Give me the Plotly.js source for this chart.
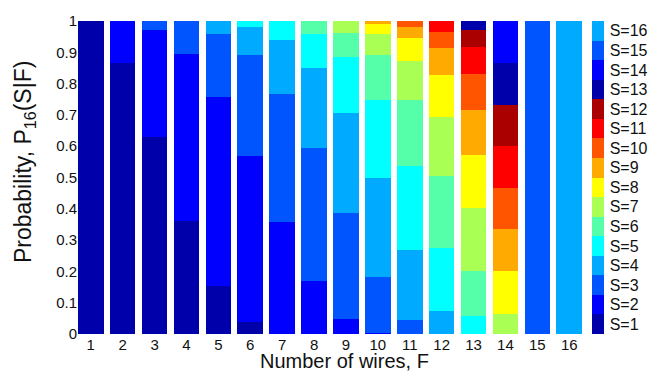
<!DOCTYPE html>
<html>
<head>
<meta charset="utf-8">
<script src="https://cdn.plot.ly/plotly-3.0.1.min.js"></script>
<style>html,body{margin:0;padding:0;background:#fff;}#chart{width:649px;height:374px;}</style>
</head>
<body>
<div id="chart"></div>
<script>
// Number of wires F (x categories)
const wires = [1,2,3,4,5,6,7,8,9,10,11,12,13,14,15,16];
// Probability P16(S|F) for each S (one array per S, indexed by F = 1..16)
const S1  = [1.000,0.867,0.628,0.362,0.152,0.038,0,0,0,0,0,0,0,0,0,0];
const S2  = [0,0.133,0.344,0.534,0.606,0.532,0.359,0.168,0.049,0.003,0,0,0,0,0,0];
const S3  = [0,0,0.028,0.104,0.202,0.321,0.409,0.425,0.337,0.179,0.046,0,0,0,0,0];
const S4  = [0,0,0,0,0.040,0.090,0.170,0.257,0.319,0.318,0.223,0.074,0,0,0,0];
const S5  = [0,0,0,0,0,0.019,0.062,0.110,0.180,0.247,0.269,0.200,0.056,0,0,0];
const S6  = [0,0,0,0,0,0,0,0.040,0.078,0.144,0.209,0.232,0.144,0,0,0];
const S7  = [0,0,0,0,0,0,0,0,0.037,0.069,0.125,0.186,0.201,0.063,0,0];
const S8  = [0,0,0,0,0,0,0,0,0,0.029,0.075,0.134,0.171,0.137,0,0];
const S9  = [0,0,0,0,0,0,0,0,0,0.011,0.034,0.088,0.143,0.135,0,0];
const S10 = [0,0,0,0,0,0,0,0,0,0,0.019,0.051,0.115,0.130,0,0];
const S11 = [0,0,0,0,0,0,0,0,0,0,0,0.035,0.087,0.135,0,0];
const S12 = [0,0,0,0,0,0,0,0,0,0,0,0,0.055,0.133,0,0];
const S13 = [0,0,0,0,0,0,0,0,0,0,0,0,0.028,0.134,0,0];
const S14 = [0,0,0,0,0,0,0,0,0,0,0,0,0,0.133,0,0];
const S15 = [0,0,0,0,0,0,0,0,0,0,0,0,0,0,1.000,0];
const S16 = [0,0,0,0,0,0,0,0,0,0,0,0,0,0,0,1.000];
const seriesValues = [S1,S2,S3,S4,S5,S6,S7,S8,S9,S10,S11,S12,S13,S14,S15,S16];
const seriesLabels = ['S=1','S=2','S=3','S=4','S=5','S=6','S=7','S=8','S=9','S=10','S=11','S=12','S=13','S=14','S=15','S=16'];
const yTicks = [0,0.1,0.2,0.3,0.4,0.5,0.6,0.7,0.8,0.9,1];
const xTitle = 'Number of wires, F';
const yTitle = 'Probability, P<sub>16</sub>(S|F)';

// jet(12) colormap, cycled
const jet12 = ['rgb(0,0,170)','rgb(0,0,255)','rgb(0,85,255)','rgb(0,170,255)','rgb(0,255,255)',
  'rgb(85,255,170)','rgb(170,255,85)','rgb(255,255,0)','rgb(255,170,0)','rgb(255,85,0)',
  'rgb(255,0,0)','rgb(170,0,0)'];
const colors = seriesLabels.map((_, i) => jet12[i % 12]);
const txt = '#111';

const traces = seriesValues.map((vals, i) => ({
  type: 'bar', x: wires, y: vals, name: seriesLabels[i],
  marker: {color: colors[i], line: {width: 0}},
  showlegend: false, hoverinfo: 'x+y+name'
}));

// discrete colorscale for colorbar legend
const n = seriesLabels.length;
const cs = [];
colors.forEach((c, i) => { cs.push([i / n, c]); cs.push([(i + 1) / n, c]); });
traces.push({
  type: 'scatter', mode: 'markers', x: [null], y: [null], showlegend: false, hoverinfo: 'skip',
  marker: {
    color: [1], colorscale: cs, cmin: 0.5, cmax: 16.5, showscale: true,
    colorbar: {
      x: 1.02, xanchor: 'left', y: 0.5, yanchor: 'middle',
      len: 1, lenmode: 'fraction', thickness: 12, thicknessmode: 'pixels',
      outlinewidth: 0, ticks: 'outside', ticklen: 3, tickcolor: 'rgba(0,0,0,0)',
      tickvals: wires, ticktext: seriesLabels,
      tickfont: {size: 16, color: txt}, xpad: 0, ypad: 0
    }
  }
});

const layout = {
  width: 649, height: 374,
  margin: {l: 78, r: 67, t: 21, b: 40, autoexpand: false},
  paper_bgcolor: '#fff', plot_bgcolor: '#fff',
  font: {family: '"Liberation Sans", Arial, sans-serif', color: txt, size: 15},
  barmode: 'stack', bargap: 0.2,
  xaxis: {
    range: [0.6, 16.4], tickvals: wires, ticks: '', showgrid: false, zeroline: false,
    showline: false, tickfont: {size: 15, color: txt}, automargin: false
  },
  yaxis: {
    range: [0, 1], tickvals: yTicks, ticks: '', showgrid: false, zeroline: false,
    showline: false, tickfont: {size: 15, color: txt}, automargin: false
  },
  annotations: [
    {text: xTitle, xref: 'paper', yref: 'paper', x: 0.529, y: -0.128,
     xanchor: 'center', yanchor: 'bottom', showarrow: false,
     font: {size: 20, color: txt}},
    {text: yTitle, xref: 'paper', yref: 'paper', x: -0.106, y: 0.548, textangle: -90,
     xanchor: 'center', yanchor: 'middle', showarrow: false,
     font: {size: 23, color: txt}}
  ]
};

Plotly.newPlot('chart', traces, layout, {displayModeBar: false, staticPlot: true});
</script>
</body>
</html>
